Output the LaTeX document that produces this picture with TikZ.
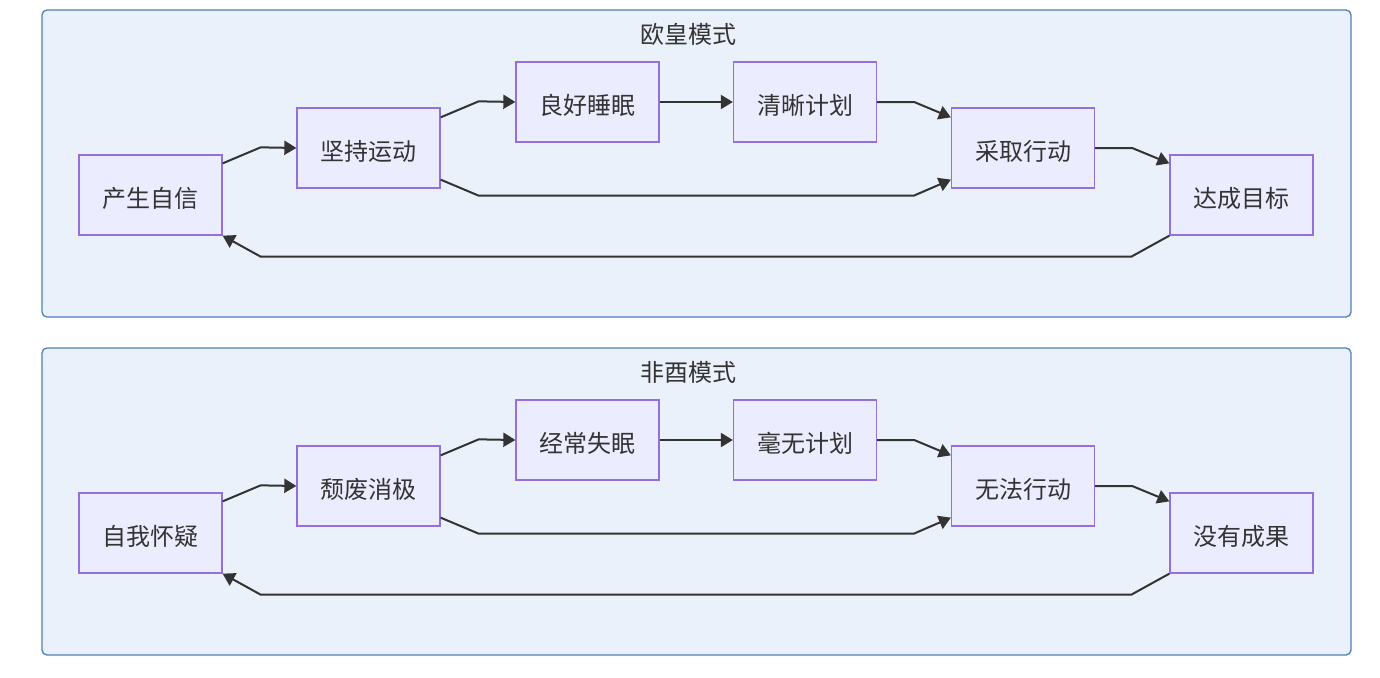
\documentclass[tikz,border=0pt]{standalone}
\usepackage{fontspec}
\setmainfont{Noto Sans CJK SC}
\definecolor{nodefill}{HTML}{ECECFF}
\definecolor{nodeline}{HTML}{9370DB}
\definecolor{boxfill}{HTML}{EAF1FB}
\definecolor{boxline}{HTML}{4F7FB8}
\definecolor{ink}{HTML}{333333}
\usetikzlibrary{arrows.meta,positioning}

\begin{document}
\begin{tikzpicture}[x=1pt, y=-1pt,
      cluster/.style={draw=boxline, line width=1.3pt, rounded corners=5pt, fill=boxfill,
        minimum width=1309pt, minimum height=307pt, inner sep=0pt},
      ttl/.style={font=\fontsize{24}{28}\selectfont, text=ink},
      stage/.style={draw=nodeline, line width=1.3pt, fill=nodefill, inner sep=0pt,
        minimum width=143pt, minimum height=80pt, font=\fontsize{24}{28}\selectfont,
        text=ink, text height=24pt, text depth=0pt},
      flow/.style={-{Triangle[length=12pt,width=14pt]}, line width=2pt, color=ink},
    ]
    \useasboundingbox[fill=white] (0,0) rectangle (1380,677);

    % upper mode
    \node[cluster] (lucky) at (696.5,163.5) {};
    \node[ttl] (luckyttl) at ([xshift=-8pt,yshift=-25pt]lucky.north) {欧皇模式};
    \node[stage] (confident) at (150.5,195) {产生自信};
    \node[stage] (exercise)  at (368.5,148) {坚持运动};
    \node[stage] (sleep)     at (587.5,102) {良好睡眠};
    \node[stage] (plan)      at (805,102)   {清晰计划};
    \node[stage] (act)       at (1023,148)  {采取行动};
    \node[stage] (goal)      at (1241.5,195) {达成目标};

    \draw[flow] ([yshift=-9pt]confident.north east) -- ++(38,-16) -- (exercise.west);
    \draw[flow] ([yshift=-10pt]exercise.north east) -- ++(38,-16) -- (sleep.west);
    \draw[flow] (sleep.east) -- (plan.west);
    \draw[flow] (plan.east) -- ++(37,0) -- ([yshift=-10pt]act.north west);
    \draw[flow] ([yshift=9pt]exercise.south east) -- ++(38,16)
      -- ([xshift=-37pt,yshift=-7pt]act.south west) -- ([yshift=9pt]act.south west);
    \draw[flow] (act.east) -- ++(37,0) -- ([yshift=-9pt]goal.north west);
    \draw[flow] (goal.south west) -- ++(-38,21)
      -- ([xshift=38pt,yshift=-21pt]confident.south east) -- (confident.south east);

    % lower mode
    \node[cluster] (unlucky) at (696.5,501.5) {};
    \node[ttl] (unluckyttl) at ([xshift=-8pt,yshift=-25pt]unlucky.north) {非酉模式};
    \node[stage] (doubt)    at (150.5,533) {自我怀疑};
    \node[stage] (gloomy)   at (368.5,486) {颓废消极};
    \node[stage] (insomnia) at (587.5,440) {经常失眠};
    \node[stage] (noplan)   at (805,440)   {毫无计划};
    \node[stage] (idle)     at (1023,486)  {无法行动};
    \node[stage] (nothing)  at (1241.5,533) {没有成果};

    \draw[flow] ([yshift=-9pt]doubt.north east) -- ++(38,-16) -- (gloomy.west);
    \draw[flow] ([yshift=-10pt]gloomy.north east) -- ++(38,-16) -- (insomnia.west);
    \draw[flow] (insomnia.east) -- (noplan.west);
    \draw[flow] (noplan.east) -- ++(37,0) -- ([yshift=-10pt]idle.north west);
    \draw[flow] ([yshift=9pt]gloomy.south east) -- ++(38,16)
      -- ([xshift=-37pt,yshift=-7pt]idle.south west) -- ([yshift=9pt]idle.south west);
    \draw[flow] (idle.east) -- ++(37,0) -- ([yshift=-9pt]nothing.north west);
    \draw[flow] (nothing.south west) -- ++(-38,21)
      -- ([xshift=38pt,yshift=-21pt]doubt.south east) -- (doubt.south east);
  \end{tikzpicture}
\end{document}
